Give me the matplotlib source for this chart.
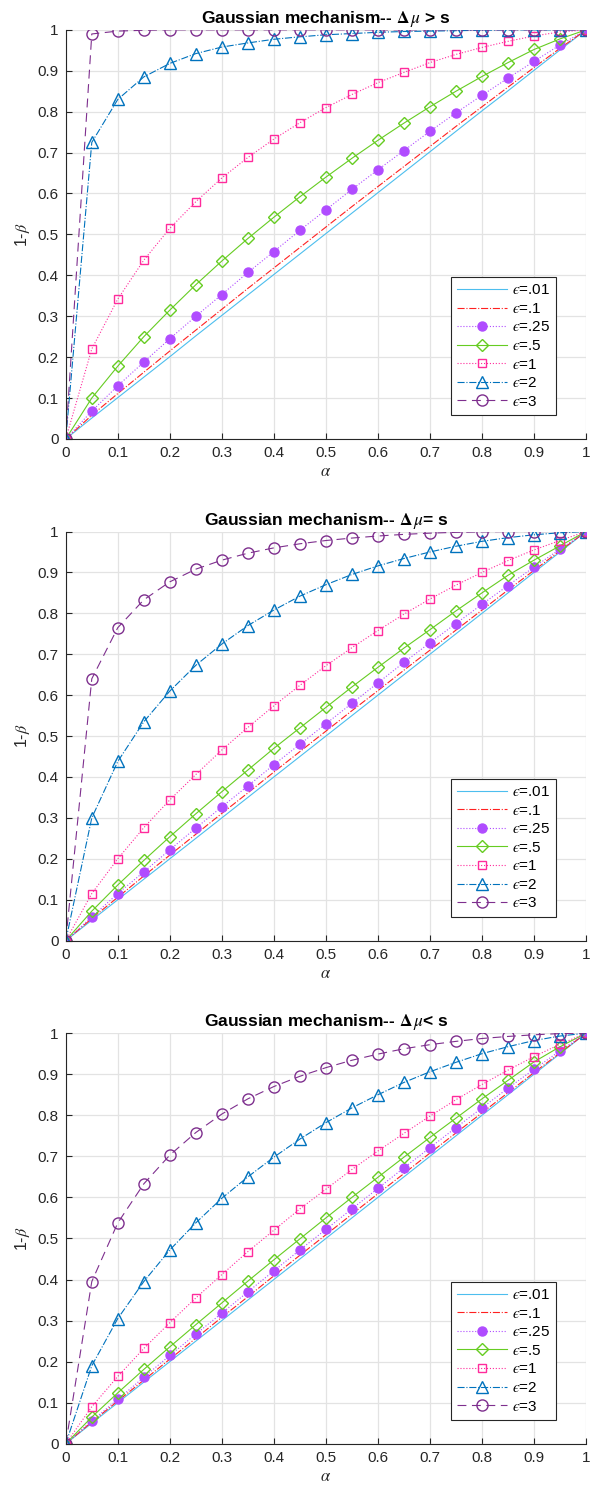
import matplotlib
matplotlib.use('Agg')
import matplotlib.pyplot as plt
import numpy as np

plt.rcParams['font.family'] = ['Liberation Sans', 'DejaVu Sans']
plt.rcParams['mathtext.fontset'] = 'stix'

# alpha grid (x values of every marker)
alpha = [0, .05, .1, .15, .2, .25, .3, .35, .4, .45, .5,
         .55, .6, .65, .7, .75, .8, .85, .9, .95, 1]

eps_labels = ['$\u03f5$=.01', '$\u03f5$=.1', '$\u03f5$=.25',
              '$\u03f5$=.5', '$\u03f5$=1', '$\u03f5$=2', '$\u03f5$=3']

titles = [r'Gaussian mechanism-- $\mathbf{\Delta}\,\mu$ > s',
          r'Gaussian mechanism-- $\mathbf{\Delta}\,\mu$= s',
          r'Gaussian mechanism-- $\mathbf{\Delta}\,\mu$< s']

# power (1-beta), panel 1: delta mu > s
p1_e001 = [0, .051, .101, .151, .201, .252, .302, .352, .402, .452, .502,
           .552, .602, .652, .702, .752, .802, .851, .901, .951, 1]
p1_e01 = [0, .058, .111, .163, .215, .266, .317, .368, .418, .468, .518,
          .568, .617, .666, .715, .764, .812, .860, .908, .955, 1]
p1_e025 = [0, .068, .130, .188, .245, .300, .353, .407, .458, .510, .560,
           .610, .658, .705, .752, .797, .840, .882, .923, .963, 1]
p1_e05 = [0, .100, .178, .250, .315, .377, .435, .490, .542, .592, .640,
          .686, .730, .772, .812, .850, .886, .920, .952, .978, 1]
p1_e1 = [0, .220, .342, .437, .515, .580, .638, .688, .733, .773, .810,
         .842, .871, .896, .920, .940, .957, .972, .985, .995, 1]
p1_e2 = [0, .725, .830, .885, .918, .942, .958, .968, .977, .983, .988,
         .991, .994, .996, .997, .998, .999, 1, 1, 1, 1]
p1_e3 = [0, .990, .997, .999, 1, 1, 1, 1, 1, 1, 1,
         1, 1, 1, 1, 1, 1, 1, 1, 1, 1]

# panel 2: delta mu = s
p2_e001 = [0, .050, .100, .150, .200, .250, .300, .350, .400, .450, .500,
           .550, .600, .650, .700, .750, .800, .850, .900, .950, 1]
p2_e01 = [0, .054, .106, .158, .209, .260, .311, .361, .412, .462, .512,
          .562, .611, .661, .710, .759, .808, .857, .905, .953, 1]
p2_e025 = [0, .058, .115, .168, .222, .275, .327, .378, .430, .480, .530,
           .580, .630, .680, .728, .775, .822, .868, .913, .957, 1]
p2_e05 = [0, .072, .136, .196, .254, .310, .364, .417, .470, .520, .570,
          .620, .668, .715, .760, .806, .850, .893, .930, .965, 1]
p2_e1 = [0, .115, .200, .276, .344, .406, .466, .521, .574, .624, .672,
         .716, .758, .798, .835, .869, .900, .929, .955, .978, 1]
p2_e2 = [0, .300, .438, .535, .610, .673, .725, .770, .808, .842, .870,
         .895, .916, .934, .950, .964, .976, .985, .992, .997, 1]
p2_e3 = [0, .640, .765, .833, .877, .908, .930, .947, .960, .970, .978,
         .984, .989, .993, .996, .998, .999, 1, 1, 1, 1]

# panel 3: delta mu < s
p3_e001 = [0, .050, .100, .150, .200, .250, .300, .350, .400, .450, .500,
           .550, .600, .650, .700, .750, .800, .850, .900, .950, 1]
p3_e01 = [0, .053, .104, .155, .206, .257, .308, .358, .409, .459, .509,
          .559, .609, .658, .708, .757, .806, .855, .904, .952, 1]
p3_e025 = [0, .056, .108, .162, .215, .267, .318, .370, .421, .472, .522,
           .572, .622, .672, .721, .770, .818, .866, .912, .957, 1]
p3_e05 = [0, .065, .124, .181, .236, .290, .343, .396, .448, .499, .550,
          .600, .649, .698, .746, .793, .840, .885, .930, .967, 1]
p3_e1 = [0, .090, .164, .232, .295, .355, .412, .468, .520, .572, .620,
         .668, .713, .756, .798, .838, .875, .910, .943, .973, 1]
p3_e2 = [0, .190, .305, .395, .472, .538, .598, .650, .698, .742, .782,
         .818, .850, .880, .906, .929, .950, .967, .982, .993, 1]
p3_e3 = [0, .395, .538, .633, .703, .758, .803, .840, .870, .895, .916,
         .934, .949, .962, .972, .980, .987, .992, .996, .999, 1]

panels = [
    [p1_e001, p1_e01, p1_e025, p1_e05, p1_e1, p1_e2, p1_e3],
    [p2_e001, p2_e01, p2_e025, p2_e05, p2_e1, p2_e2, p2_e3],
    [p3_e001, p3_e01, p3_e025, p3_e05, p3_e1, p3_e2, p3_e3],
]

# line styles per epsilon
styles = [
    dict(color='#4DBEEE', ls='-', marker=None),
    dict(color='#FF2020', ls='-.', marker=None),
    dict(color='#B04CFF', ls=':', marker='o', mfc='#B04CFF', ms=6.5),
    dict(color='#66CC22', ls='-', marker='D', mfc='none', ms=6.5),
    dict(color='#FF2B9C', ls=':', marker='s', mfc='none', ms=6),
    dict(color='#0072BD', ls='-.', marker='^', mfc='none', ms=8.5),
    dict(color='#7E2F8E', ls=(0, (8, 5)), marker='o', mfc='none', ms=8),
]

fig = plt.figure(figsize=(5.98, 14.93), dpi=100)
ax_pos = [[0.110, 0.706, 0.870, 0.274],
          [0.110, 0.370, 0.870, 0.274],
          [0.110, 0.033, 0.870, 0.275]]

for k in range(3):
    ax = fig.add_axes(ax_pos[k])
    for j, series in enumerate(panels[k]):
        st = styles[j]
        kw = dict(color=st['color'], linestyle=st['ls'], linewidth=0.8,
                  label=eps_labels[j])
        if st['marker']:
            kw.update(marker=st['marker'], markerfacecolor=st['mfc'],
                      markeredgecolor=st['color'], markersize=st['ms'],
                      markeredgewidth=1.0)
        ax.plot(alpha, series, **kw)

    ax.set_xlim(0, 1)
    ax.set_ylim(0, 1)
    ax.set_xticks(np.arange(0, 1.01, 0.1))
    ax.set_yticks(np.arange(0, 1.01, 0.1))
    ax.set_xticklabels(['0', '0.1', '0.2', '0.3', '0.4', '0.5', '0.6',
                        '0.7', '0.8', '0.9', '1'])
    ax.set_yticklabels(['0', '0.1', '0.2', '0.3', '0.4', '0.5', '0.6',
                        '0.7', '0.8', '0.9', '1'])
    ax.grid(True, color='#E3E3E3', linewidth=0.9)
    ax.set_axisbelow(True)
    ax.spines['top'].set_visible(False)
    ax.spines['right'].set_visible(False)
    for s in ('left', 'bottom'):
        ax.spines[s].set_color('#262626')
        ax.spines[s].set_linewidth(0.8)
    ax.tick_params(direction='in', length=4, width=0.8, colors='#262626',
                   labelsize=11, labelcolor='#262626', pad=5)
    ax.set_xlabel(r'$\alpha$', fontsize=12, color='#262626', labelpad=3)
    ax.set_ylabel(r'1-$\beta$', fontsize=11.5, color='#262626', labelpad=4)
    ax.set_title(titles[k], fontsize=12.5, fontweight='bold', pad=5)

    leg = ax.legend(loc='lower right', bbox_to_anchor=(0.957, 0.04),
                    fontsize=11, handlelength=3.3, handletextpad=0.3,
                    labelspacing=0.3, borderpad=0.4, fancybox=False,
                    framealpha=1, edgecolor='#262626')
    leg.get_frame().set_linewidth(0.8)

fig.savefig('out.png', dpi=100, facecolor='white')
